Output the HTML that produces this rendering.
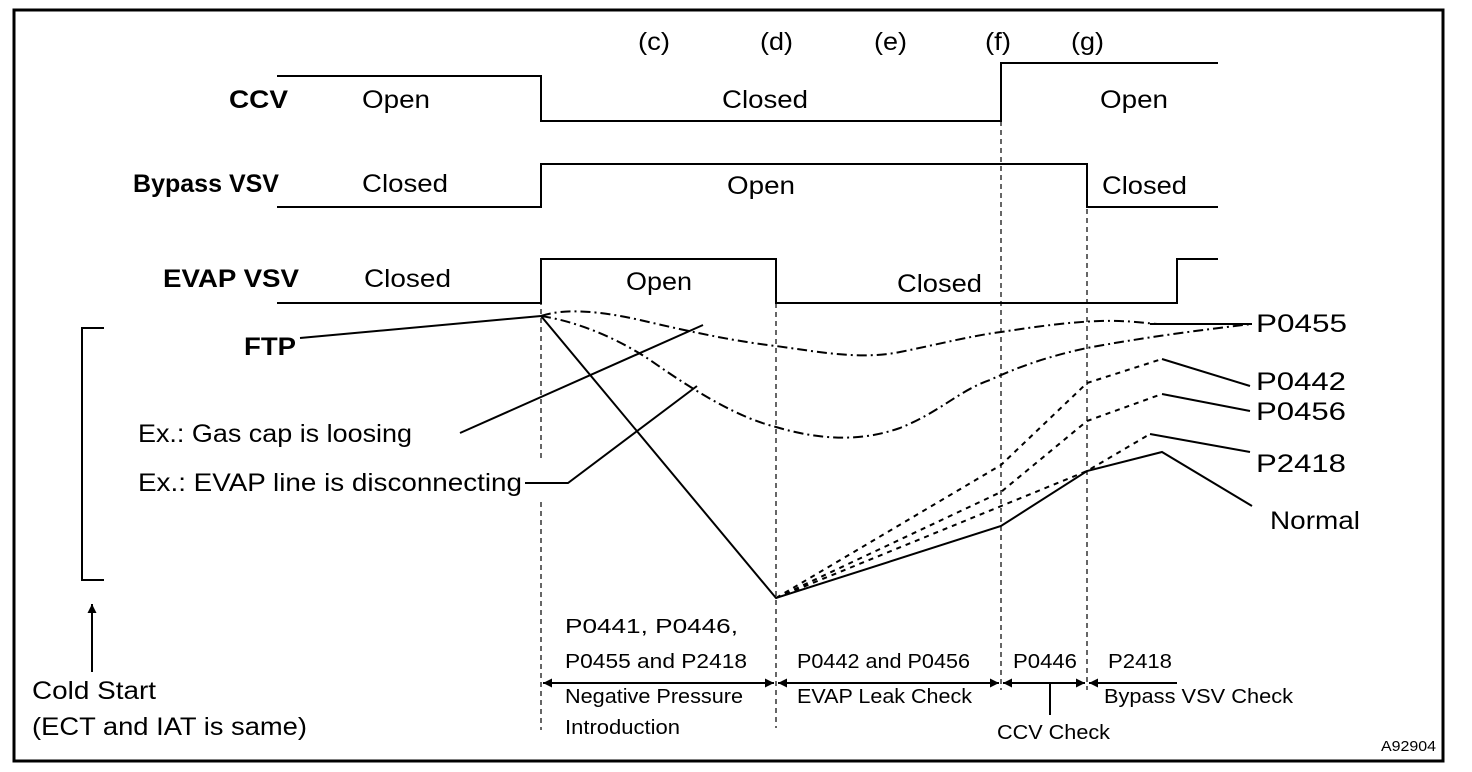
<!DOCTYPE html>
<html><head><meta charset="utf-8"><style>
html,body{margin:0;padding:0;background:#fff;}
svg{display:block;}
text{font-family:"Liberation Sans",Arial,sans-serif;fill:#000;}
</style></head><body>
<svg width="1472" height="772" viewBox="0 0 1472 772" xmlns="http://www.w3.org/2000/svg">
<defs>
<marker id="ah" viewBox="0 0 10 10" refX="10" refY="5" markerWidth="9" markerHeight="9" orient="auto-start-reverse" markerUnits="userSpaceOnUse"><path d="M0,0 L10,5 L0,10 z" fill="#000"/></marker>
</defs>
<rect x="14" y="10" width="1429" height="751" fill="none" stroke="#000" stroke-width="3"/>
<g fill="none" stroke="#000" stroke-width="2">
<polyline points="277,76 541,76 541,121 1001,121 1001,63 1218,63"/>
<polyline points="277,207 541,207 541,164 1087,164 1087,207 1218,207"/>
<polyline points="277,303 541,303 541,259 776,259 776,303 1177,303 1177,259 1218,259"/>
<path d="M104,328 H82 V580 H104"/>
<line x1="92" y1="672" x2="92" y2="604" marker-end="url(#ah)"/>
<line x1="300" y1="338" x2="541" y2="316"/>
<polyline points="541,316 776,598 1001,526 1087,471 1162,452 1252,506"/>
<line x1="460" y1="433" x2="703" y2="325"/>
<polyline points="525,483 568,483 697,386"/>
<polyline points="1150,434 1250,452"/>
<polyline points="1162,394 1250,411"/>
<polyline points="1162,359 1250,386"/>
<polyline points="1150,324 1252,324"/>
</g>
<g fill="none" stroke="#000" stroke-width="1.2" stroke-dasharray="5,4">
<line x1="541" y1="300" x2="541" y2="462"/>
<line x1="541" y1="502" x2="541" y2="730"/>
<line x1="776" y1="303" x2="776" y2="728"/>
<line x1="1001" y1="121" x2="1001" y2="690"/>
<line x1="1087" y1="164" x2="1087" y2="690"/>
</g>
<g fill="none" stroke="#000" stroke-width="2" stroke-dasharray="5,5">
<polyline points="776,598 1087,471 1150,434"/>
<polyline points="776,598 1001,492 1087,421 1162,394"/>
<polyline points="776,598 1001,465 1087,383 1162,359"/>
</g>
<g fill="none" stroke="#000" stroke-width="2" stroke-dasharray="10,4,2,4">
<path d="M541,316 C565,308 600,311 640,320 C700,334 740,342 776,346 C820,352 860,360 900,352 C940,344 970,336 1001,332 C1040,326 1070,322 1100,321 C1130,320 1150,324 1160,324 L1252,324"/>
<path d="M541,316 C580,322 620,340 650,360 C700,395 740,418 776,427 C820,440 860,442 900,428 C940,412 960,390 990,380 C1020,366 1050,356 1087,348 C1140,338 1200,330 1252,324"/>
</g>
<g stroke="#000" stroke-width="2" fill="none">
<line x1="543" y1="683" x2="774" y2="683" marker-start="url(#ah)" marker-end="url(#ah)"/>
<line x1="778" y1="683" x2="999" y2="683" marker-start="url(#ah)" marker-end="url(#ah)"/>
<line x1="1003" y1="683" x2="1085" y2="683" marker-start="url(#ah)" marker-end="url(#ah)"/>
<line x1="1089" y1="683" x2="1177" y2="683" marker-start="url(#ah)"/>
<line x1="1050" y1="683" x2="1050" y2="715"/>
</g>
<g font-size="25" lengthAdjust="spacingAndGlyphs">
<text x="638" y="50" textLength="32" lengthAdjust="spacingAndGlyphs">(c)</text>
<text x="760" y="50" textLength="33" lengthAdjust="spacingAndGlyphs">(d)</text>
<text x="874" y="50" textLength="33" lengthAdjust="spacingAndGlyphs">(e)</text>
<text x="985" y="50" textLength="26" lengthAdjust="spacingAndGlyphs">(f)</text>
<text x="1071" y="50" textLength="33" lengthAdjust="spacingAndGlyphs">(g)</text>
<text x="229" y="108" font-weight="bold" textLength="59" lengthAdjust="spacingAndGlyphs">CCV</text>
<text x="362" y="108" textLength="68" lengthAdjust="spacingAndGlyphs">Open</text>
<text x="722" y="108" textLength="86" lengthAdjust="spacingAndGlyphs">Closed</text>
<text x="1100" y="108" textLength="68" lengthAdjust="spacingAndGlyphs">Open</text>
<text x="133" y="192" font-weight="bold" textLength="146" lengthAdjust="spacingAndGlyphs">Bypass VSV</text>
<text x="362" y="192" textLength="86" lengthAdjust="spacingAndGlyphs">Closed</text>
<text x="727" y="194" textLength="68" lengthAdjust="spacingAndGlyphs">Open</text>
<text x="1102" y="194" textLength="85" lengthAdjust="spacingAndGlyphs">Closed</text>
<text x="163" y="287" font-weight="bold" textLength="136" lengthAdjust="spacingAndGlyphs">EVAP VSV</text>
<text x="364" y="287" textLength="87" lengthAdjust="spacingAndGlyphs">Closed</text>
<text x="626" y="290" textLength="66" lengthAdjust="spacingAndGlyphs">Open</text>
<text x="897" y="292" textLength="85" lengthAdjust="spacingAndGlyphs">Closed</text>
<text x="244" y="355" font-weight="bold" textLength="52" lengthAdjust="spacingAndGlyphs">FTP</text>
<text x="1256" y="332" textLength="91" lengthAdjust="spacingAndGlyphs">P0455</text>
<text x="1256" y="390" textLength="90" lengthAdjust="spacingAndGlyphs">P0442</text>
<text x="1256" y="420" textLength="90" lengthAdjust="spacingAndGlyphs">P0456</text>
<text x="1256" y="472" textLength="90" lengthAdjust="spacingAndGlyphs">P2418</text>
<text x="1270" y="529" textLength="90" lengthAdjust="spacingAndGlyphs">Normal</text>
<text x="138" y="442" textLength="274" lengthAdjust="spacingAndGlyphs">Ex.: Gas cap is loosing</text>
<text x="138" y="491" textLength="384" lengthAdjust="spacingAndGlyphs">Ex.: EVAP line is disconnecting</text>
<text x="32" y="699" textLength="124" lengthAdjust="spacingAndGlyphs">Cold Start</text>
<text x="32" y="735" textLength="275" lengthAdjust="spacingAndGlyphs">(ECT and IAT is same)</text>
</g>
<g font-size="20">
<text x="565" y="633" textLength="173" lengthAdjust="spacingAndGlyphs">P0441, P0446,</text>
<text x="565" y="668" textLength="182" lengthAdjust="spacingAndGlyphs">P0455 and P2418</text>
<text x="797" y="668" textLength="173" lengthAdjust="spacingAndGlyphs">P0442 and P0456</text>
<text x="1013" y="668" textLength="64" lengthAdjust="spacingAndGlyphs">P0446</text>
<text x="1108" y="668" textLength="64" lengthAdjust="spacingAndGlyphs">P2418</text>
<text x="565" y="703" textLength="178" lengthAdjust="spacingAndGlyphs">Negative Pressure</text>
<text x="565" y="734" textLength="115" lengthAdjust="spacingAndGlyphs">Introduction</text>
<text x="797" y="703" textLength="175" lengthAdjust="spacingAndGlyphs">EVAP Leak Check</text>
<text x="1104" y="703" textLength="189" lengthAdjust="spacingAndGlyphs">Bypass VSV Check</text>
<text x="997" y="739" textLength="113" lengthAdjust="spacingAndGlyphs">CCV Check</text>
</g>
<text x="1381" y="751" font-size="15" textLength="55" lengthAdjust="spacingAndGlyphs">A92904</text>
</svg>
</body></html>
